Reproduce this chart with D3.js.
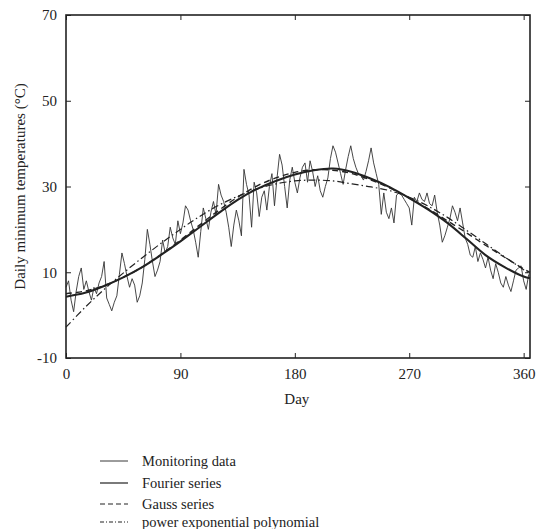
<!DOCTYPE html>
<html>
<head>
<meta charset="utf-8">
<script src="https://cdn.jsdelivr.net/npm/d3@7"></script>
<style>
  body { margin: 0; background: #fff; }
  svg { display: block; font-family: "Liberation Serif", "DejaVu Serif", serif; }
</style>
</head>
<body>
<svg id="chart" width="536" height="529"></svg>
<script>
// monitoring data, read every 2 days (day 0..364)
const monitoringStep = 2;
const monitoring = [
  6.5, 8.0, 3.5, 0.8, 5.5, 9.0, 11.0, 6.0, 8.0, 5.5, 3.5, 6.5, 5.0, 7.5, 9.0, 12.5,
  4.0, 2.5, 1.0, 3.0, 4.5, 9.5, 14.5, 12.0, 9.0, 6.5, 8.5, 7.0, 3.0, 4.5, 7.5, 13.0,
  20.0, 16.5, 12.5, 9.0, 10.5, 12.5, 17.5, 14.5, 16.0, 20.5, 18.0, 16.5, 22.0, 19.0,
  21.5, 25.5, 24.5, 22.0, 20.0, 17.0, 13.5, 19.5, 25.0, 22.5, 20.0, 24.0, 26.5, 23.5,
  30.5, 28.0, 26.5, 24.0, 20.5, 16.0, 21.0, 24.5, 22.0, 18.5, 34.0, 30.5, 28.0, 20.5,
  31.0, 28.5, 23.0, 27.5, 29.0, 24.5, 30.0, 33.0, 25.5, 32.0, 37.5, 35.0, 30.0, 25.0,
  31.5, 34.5, 31.0, 28.5, 32.0, 34.5, 35.5, 31.0, 36.0, 33.5, 30.0, 32.5, 29.0, 27.5,
  30.0, 32.0, 36.5, 39.5, 38.0, 35.5, 33.0, 30.5, 34.0, 37.0, 39.5, 36.5, 34.5, 33.0,
  32.5, 31.5, 33.5, 36.0, 39.0, 35.5, 33.0, 30.5, 23.5, 28.5, 24.0, 22.5, 25.0, 21.5,
  28.0, 28.5, 28.0, 27.0, 26.0, 25.0, 21.0, 27.5, 26.5, 28.5, 27.0, 26.5, 28.5, 26.0,
  25.5, 28.0, 24.0, 21.0, 17.0, 18.5, 20.5, 22.5, 25.5, 24.0, 22.0, 25.0, 21.5, 18.0,
  16.5, 14.0, 13.5, 16.0, 12.5, 14.5, 13.0, 11.0, 13.5, 10.5, 8.5, 12.0, 10.0, 7.5,
  6.5, 9.0, 7.0, 5.5, 8.0, 10.5, 11.0, 11.5, 8.0, 6.0, 9.5
];

// fitted curves, read every 15 days (plus day 365)
const fitDays = [0, 15, 30, 45, 60, 75, 90, 105, 120, 135, 150, 165, 180, 195, 210, 225, 240, 255, 270, 285, 300, 315, 330, 345, 360, 365];
const fourier = [4.3, 5.2, 6.8, 8.8, 11.2, 14.1, 17.2, 20.5, 23.8, 26.9, 29.4, 31.3, 32.8, 33.8, 34.2, 33.4, 31.8, 29.8, 27.3, 24.6, 21.5, 17.8, 14.0, 11.2, 9.0, 8.6];
const gauss = [5.0, 5.6, 6.9, 8.8, 11.2, 14.2, 17.5, 21.0, 24.4, 27.5, 30.1, 32.0, 33.3, 33.9, 33.8, 33.0, 31.5, 29.6, 27.3, 24.8, 22.0, 19.2, 16.3, 13.5, 10.8, 10.0];
const powerExp = [-2.8, 1.8, 6.0, 9.8, 13.4, 16.8, 20.0, 23.0, 25.6, 27.7, 29.4, 30.6, 31.3, 31.5, 31.3, 30.6, 29.9, 29.0, 27.5, 25.4, 22.8, 19.8, 16.7, 13.6, 10.6, 9.6];

const xTicks = [0, 90, 180, 270, 360];
const yTicks = [-10, 10, 30, 50, 70];
const legendLabels = ['Monitoring data', 'Fourier series', 'Gauss series', 'power exponential polynomial'];

const svg = d3.select('#chart');
const margin = { left: 66, top: 15, right: 6, bottom: 171 };
const W = 536 - margin.left - margin.right;
const H = 529 - margin.top - margin.bottom;

const x = d3.scaleLinear().domain([0, 365]).range([0, W]);
const y = d3.scaleLinear().domain([-10, 70]).range([H, 0]);

const g = svg.append('g').attr('transform', `translate(${margin.left},${margin.top})`);

const styles = [
  { width: 0.9, dash: null, color: '#333' },
  { width: 2.1, dash: null, color: '#222' },
  { width: 1.4, dash: '6,4', color: '#222' },
  { width: 1.2, dash: '7,3,1.5,3', color: '#222' }
];

const lineMon = d3.line().x((d, i) => x(i * monitoringStep)).y(d => y(d));
const lineFit = d3.line().x((d, i) => x(fitDays[i])).y(d => y(d)).curve(d3.curveCatmullRom);

g.append('path').datum(monitoring).attr('d', lineMon)
  .attr('fill', 'none').attr('stroke', styles[0].color).attr('stroke-width', styles[0].width).attr('stroke-linejoin', 'round');

[fourier, gauss, powerExp].forEach((s, k) => {
  const st = styles[k + 1];
  g.append('path').datum(s).attr('d', lineFit)
    .attr('fill', 'none').attr('stroke', st.color).attr('stroke-width', st.width)
    .attr('stroke-dasharray', st.dash);
});

// axes with inward ticks on all four sides
const fontSize = '15px';
const plain = d => String(d);
function styleAxis(sel) {
  sel.select('.domain').remove();
  sel.selectAll('line').attr('stroke', '#222').attr('stroke-width', 1);
  sel.selectAll('text').attr('fill', '#222').style('font-size', fontSize).style('font-family', 'Liberation Serif, serif');
}
const xb = g.append('g').attr('transform', `translate(0,${H})`)
  .call(d3.axisBottom(x).tickValues(xTicks).tickFormat(plain).tickSizeInner(-5).tickSizeOuter(0).tickPadding(10));
styleAxis(xb);
const yl = g.append('g')
  .call(d3.axisLeft(y).tickValues(yTicks).tickFormat(plain).tickSizeInner(-5).tickSizeOuter(0).tickPadding(9));
styleAxis(yl);
const xt = g.append('g').call(d3.axisTop(x).tickValues(xTicks).tickSizeInner(-5).tickSizeOuter(0).tickFormat(''));
styleAxis(xt);
const yr = g.append('g').attr('transform', `translate(${W},0)`)
  .call(d3.axisRight(y).tickValues(yTicks).tickSizeInner(-5).tickSizeOuter(0).tickFormat(''));
styleAxis(yr);

g.append('rect').attr('width', W).attr('height', H)
  .attr('fill', 'none').attr('stroke', '#222').attr('stroke-width', 1.6);

// axis titles
g.append('text').attr('x', x(180) + 2).attr('y', H + 46).attr('text-anchor', 'middle')
  .style('font-size', fontSize).attr('fill', '#222').text('Day');
svg.append('text').attr('transform', `translate(25,${margin.top + H / 2}) rotate(-90)`)
  .attr('text-anchor', 'middle').style('font-size', fontSize).attr('fill', '#222')
  .text('Daily minimum temperatures (°C)');

// legend
const legendY = [461, 483, 504, 522];
const legend = svg.append('g');
legendLabels.forEach((lab, i) => {
  const st = styles[i];
  legend.append('line').attr('x1', 100).attr('x2', 128).attr('y1', legendY[i]).attr('y2', legendY[i])
    .attr('stroke', '#222').attr('stroke-width', Math.min(st.width, 1.2))
    .attr('stroke-dasharray', i === 2 ? '5,3' : (i === 3 ? '4,2,1,2' : null));
  legend.append('text').attr('x', 142).attr('y', legendY[i] + 5)
    .style('font-size', '14.5px').attr('fill', '#222').text(lab);
});
</script>
</body>
</html>
